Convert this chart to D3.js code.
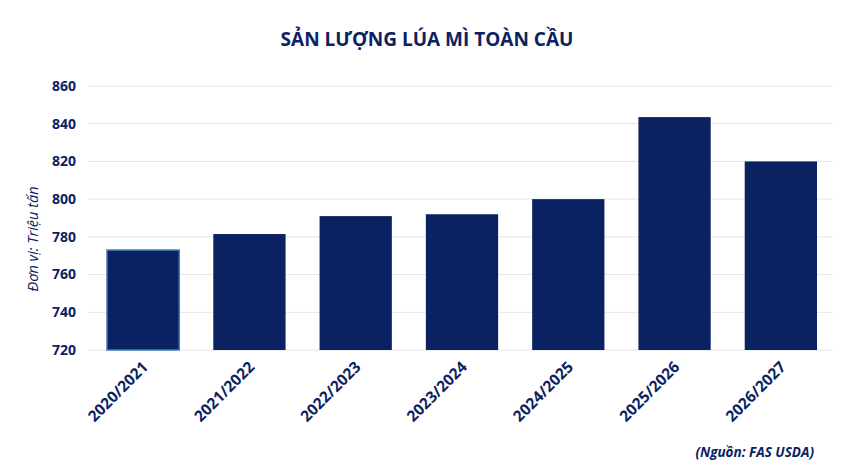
<!DOCTYPE html>
<html>
<head>
<meta charset="utf-8">
<script src="https://cdn.jsdelivr.net/npm/d3@7"></script>
<style>
  body { margin: 0; background: #fff; }
  text { font-family: 'Open Sans', sans-serif; }
</style>
</head>
<body>
<div id="chart"></div>
<script>
const seasons = ['2020/2021', '2021/2022', '2022/2023', '2023/2024', '2024/2025', '2025/2026', '2026/2027']
const output = [773, 781.5, 791, 792, 800, 843.5, 820]
const yTicks = [720, 740, 760, 780, 800, 820, 840, 860]

const W = 850
const H = 475
const navy = '#0b2262'

const svg = d3.select('#chart').append('svg').attr('width', W).attr('height', H)

const x = d3.scaleBand(seasons, [90, 834]).paddingInner(0.32).paddingOuter(0.16)
const y = d3.scaleLinear([720, 860], [350, 86])

// grid
svg.append('g')
  .selectAll('line')
  .data(yTicks)
  .enter()
  .append('line')
  .attr('x1', 88)
  .attr('x2', 833)
  .attr('y1', (d) => y(d))
  .attr('y2', (d) => y(d))
  .attr('stroke', '#e6e6e6')
  .attr('stroke-width', 1)

// y labels
svg.append('g')
  .selectAll('text')
  .data(yTicks)
  .enter()
  .append('text')
  .attr('x', 76)
  .attr('y', (d) => y(d))
  .attr('dy', '0.35em')
  .attr('text-anchor', 'end')
  .attr('font-size', 14)
  .attr('font-weight', 'bold')
  .attr('fill', navy)
  .text((d) => d)

// bars
svg.append('g')
  .selectAll('rect')
  .data(seasons)
  .enter()
  .append('rect')
  .attr('x', (d) => x(d))
  .attr('width', x.bandwidth())
  .attr('y', (d, i) => y(output[i]))
  .attr('height', (d, i) => y(720) - y(output[i]))
  .attr('fill', navy)
  .attr('stroke', (d, i) => (i === 0 ? '#3d7fb3' : 'none'))
  .attr('stroke-width', 1.5)

// x labels
svg.append('g')
  .selectAll('text')
  .data(seasons)
  .enter()
  .append('text')
  .attr('transform', (d) => `translate(${x(d) + x.bandwidth() / 2 + 6},${368}) rotate(-45)`)
  .attr('text-anchor', 'end')
  .attr('font-size', 15.5)
  .attr('font-weight', 'bold')
  .attr('fill', navy)
  .text((d) => d)

// title
svg.append('text')
  .attr('x', 427)
  .attr('y', 46)
  .attr('text-anchor', 'middle')
  .attr('font-size', 19)
  .attr('font-weight', 'bold')
  .attr('fill', navy)
  .text('SẢN LƯỢNG LÚA MÌ TOÀN CẦU')

// y axis title
svg.append('text')
  .attr('transform', 'translate(38,239) rotate(-90)')
  .attr('text-anchor', 'middle')
  .attr('font-size', 14.5)
  .attr('font-style', 'italic')
  .attr('fill', navy)
  .text('Đơn vị: Triệu tấn')

// source
svg.append('text')
  .attr('x', 814)
  .attr('y', 457)
  .attr('text-anchor', 'end')
  .attr('font-size', 13.5)
  .attr('font-weight', 'bold')
  .attr('font-style', 'italic')
  .attr('fill', navy)
  .text('(Nguồn: FAS USDA)')
</script>
</body>
</html>
